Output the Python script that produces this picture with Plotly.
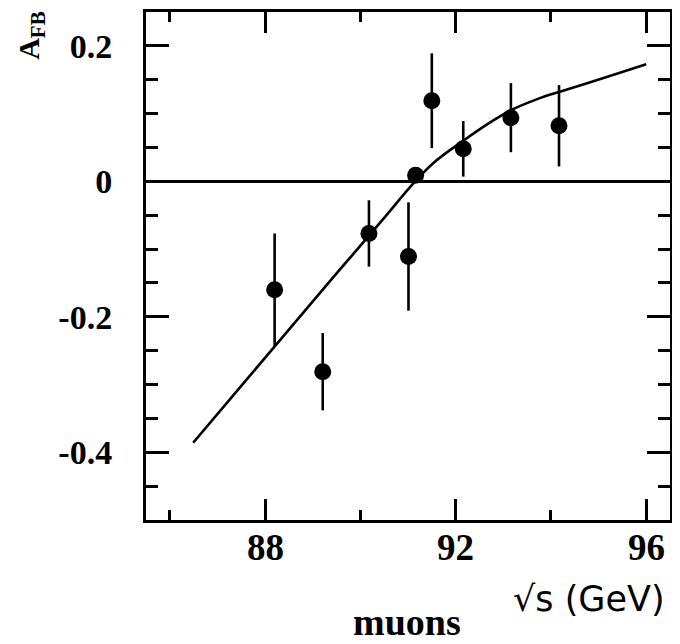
import plotly.graph_objects as go

# Data points (sqrt(s) in GeV, asymmetry, error)
sqrt_s = [88.20, 89.21, 90.18, 91.01, 91.16, 91.50, 92.16, 93.16, 94.17]
afb = [-0.160, -0.281, -0.077, -0.111, 0.009, 0.119, 0.048, 0.094, 0.082]
afb_err = [0.083, 0.057, 0.049, 0.080, 0.010, 0.070, 0.041, 0.051, 0.060]

# Theory curve
curve_x = [86.49, 87.50, 88.50, 89.50, 90.50, 91.15, 91.60, 92.16, 92.70, 93.16, 93.70, 94.17, 95.17, 96.00]
curve_y = [-0.386, -0.302, -0.219, -0.136, -0.054, 0.000, 0.031, 0.060, 0.086, 0.105, 0.121, 0.132, 0.154, 0.173]

x_major = [88, 92, 96]
x_major_text = ["88", "92", "96"]
x_minor = [86, 90, 94]
y_major = [-0.4, -0.2, 0, 0.2]
y_major_text = ["-0.4", "-0.2", "0", "0.2"]
y_minor = [-0.45, -0.35, -0.3, -0.25, -0.15, -0.1, -0.05, 0.05, 0.1, 0.15]

OFF = 8  # page body offset
W, H = 680 - OFF, 644 - OFF
L, T = 146 - OFF, 1
R = W - (670 - OFF)
B = H - (520 - OFF)
pw, ph = W - L - R, H - T - B

def px(xwin):
    return (xwin - OFF - L) / pw

def py(ywin):
    return (H - B - (ywin - OFF)) / ph

fig = go.Figure()
fig.add_trace(go.Scatter(
    x=curve_x, y=curve_y, mode="lines",
    line=dict(color="black", width=2.6, shape="spline", smoothing=1.0),
    hoverinfo="skip", showlegend=False))
fig.add_trace(go.Scatter(
    x=sqrt_s, y=afb, mode="markers",
    marker=dict(color="black", size=17),
    error_y=dict(type="data", array=afb_err, visible=True, color="black", thickness=2.6, width=0),
    showlegend=False))

serif_b = dict(family="Liberation Serif", color="black", weight="bold")

annotations = [
    dict(text="√s (GeV)", xref="paper", yref="paper", x=px(667), y=py(599),
         xanchor="right", yanchor="middle", showarrow=False,
         font=dict(family="DejaVu Sans", size=35, color="black")),
    dict(text="muons", xref="paper", yref="paper", x=px(407), y=py(623),
         xanchor="center", yanchor="middle", showarrow=False,
         font=dict(size=38, **serif_b)),
    dict(text="A<sub>FB</sub>", xref="paper", yref="paper", x=px(31), y=py(33),
         xanchor="center", yanchor="middle", showarrow=False, textangle=-90,
         font=dict(size=30, **serif_b)),
]
for v, t in zip(x_major, x_major_text):
    annotations.append(dict(text=t, x=v, xref="x", yref="paper", y=py(548),
                            xanchor="center", yanchor="middle", showarrow=False,
                            font=dict(size=37, **serif_b)))

fig.update_layout(
    width=W, height=H,
    margin=dict(l=L, r=R, t=T, b=B),
    paper_bgcolor="white", plot_bgcolor="white",
    xaxis=dict(
        range=[85.5, 96.5], showgrid=False, zeroline=False,
        showline=True, linecolor="black", linewidth=3, mirror="allticks",
        tickmode="array", tickvals=x_major, ticktext=x_major_text, showticklabels=False,
        ticks="inside", ticklen=21, tickwidth=3, tickcolor="black",
        minor=dict(tickmode="array", tickvals=x_minor, ticks="inside", ticklen=10,
                   tickwidth=3, tickcolor="black", showgrid=False),
    ),
    yaxis=dict(
        range=[-0.5, 0.25], showgrid=False,
        zeroline=True, zerolinecolor="black", zerolinewidth=2.6,
        showline=True, linecolor="black", linewidth=3, mirror="allticks",
        tickmode="array", tickvals=y_major, ticktext=y_major_text,
        ticks="inside", ticklen=23, tickwidth=3, tickcolor="black",
        tickfont=dict(size=34, **serif_b), ticklabelstandoff=24,
        minor=dict(tickmode="array", tickvals=y_minor, ticks="inside", ticklen=12,
                   tickwidth=3, tickcolor="black", showgrid=False),
    ),
    annotations=annotations,
)

fig.write_html("out.html")
